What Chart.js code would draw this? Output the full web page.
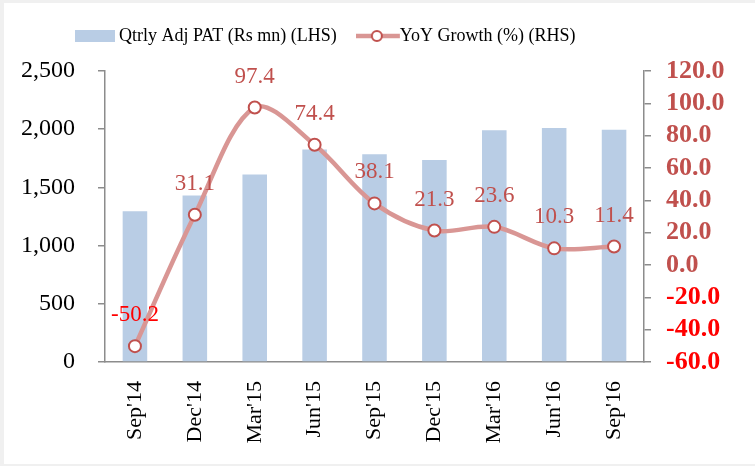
<!DOCTYPE html>
<html>
<head>
<meta charset="utf-8">
<script src="https://cdn.jsdelivr.net/npm/chart.js@4.4.1/dist/chart.umd.min.js"></script>
<style>
html,body{margin:0;padding:0;background:#fff;}
#wrap{width:755px;height:466px;position:relative;}
</style>
</head>
<body>
<div id="wrap"><canvas id="c" width="755" height="466"></canvas></div>
<script>
const categories = ["Sep'14","Dec'14","Mar'15","Jun'15","Sep'15","Dec'15","Mar'16","Jun'16","Sep'16"];
const patValues = [1295, 1430, 1610, 1825, 1785, 1735, 1990, 2010, 1995];
const yoyGrowth = [-50.2, 31.1, 97.4, 74.4, 38.1, 21.3, 23.6, 10.3, 11.4];
const leftTicks = [0, 500, 1000, 1500, 2000, 2500];
const rightTicks = [-60, -40, -20, 0, 20, 40, 60, 80, 100, 120];

const BAR_COLOR = '#B9CDE5';
const LINE_COLOR = '#D99694';
const MARK_COLOR = '#C0504D';
const NEG_COLOR = '#FF0000';
const SERIF = '"Liberation Serif", "DejaVu Serif", serif';

// legend icons: image is 58 px wide, centred 6 px after the item start
function barIcon() {
  const c = document.createElement('canvas');
  c.width = 58; c.height = 12;
  const x = c.getContext('2d');
  x.fillStyle = BAR_COLOR; x.fillRect(0, 0, 40, 12);
  return c;
}
function lineIcon() {
  const c = document.createElement('canvas');
  c.width = 58; c.height = 14;
  const x = c.getContext('2d');
  x.strokeStyle = LINE_COLOR; x.lineWidth = 4.5;
  x.beginPath(); x.moveTo(-2, 7); x.lineTo(44, 7); x.stroke();
  x.beginPath(); x.arc(21, 7, 5, 0, Math.PI * 2);
  x.fillStyle = '#fff'; x.fill();
  x.strokeStyle = MARK_COLOR; x.lineWidth = 2; x.stroke();
  return c;
}
const icons = [barIcon(), lineIcon()];

const frame = {
  id: 'frame',
  beforeDraw(chart) {
    const ctx = chart.ctx;
    ctx.save();
    ctx.fillStyle = '#f0f0f0';
    ctx.fillRect(0, 0, chart.width, chart.height);
    ctx.fillStyle = '#ffffff';
    ctx.fillRect(4, 3, chart.width - 4, chart.height - 5);
    ctx.restore();
  }
};

const legendPlace = {
  id: 'legendPlace',
  beforeInit(chart) {
    const lg = chart.legend;
    const orig = lg.fit;
    lg.fit = function () { orig.call(this); this.height = 71; };
  },
  afterLayout(chart) {
    const lg = chart.legend;
    lg.left = 56;
    lg.right = 755;
    lg.top = -15;
    lg.bottom = 71;
    lg.width = lg.right - lg.left;
    lg.height = lg.bottom - lg.top;
    lg.adjustHitBoxes();
  }
};

const valueLabels = {
  id: 'valueLabels',
  afterDatasetsDraw(chart) {
    const meta = chart.getDatasetMeta(1);
    const ctx = chart.ctx;
    ctx.save();
    ctx.font = '23px ' + SERIF;
    ctx.textAlign = 'center';
    ctx.textBaseline = 'middle';
    meta.data.forEach((pt, i) => {
      const v = yoyGrowth[i];
      ctx.fillStyle = v < 0 ? NEG_COLOR : MARK_COLOR;
      ctx.fillText(v.toFixed(1), pt.x, pt.y - 31);
    });
    ctx.restore();
  }
};

new Chart(document.getElementById('c'), {
  data: {
    labels: categories,
    datasets: [
      {
        type: 'bar',
        label: 'Qtrly Adj PAT (Rs mn) (LHS)',
        data: patValues,
        backgroundColor: BAR_COLOR,
        yAxisID: 'yL',
        barPercentage: 0.41,
        categoryPercentage: 1,
        order: 2
      },
      {
        type: 'line',
        label: 'YoY Growth (%) (RHS)',
        data: yoyGrowth,
        borderColor: LINE_COLOR,
        borderWidth: 4.5,
        tension: 0.33,
        pointRadius: 6,
        pointBackgroundColor: '#ffffff',
        pointBorderColor: MARK_COLOR,
        pointBorderWidth: 2,
        yAxisID: 'yR',
        order: 1
      }
    ]
  },
  options: {
    responsive: false,
    animation: false,
    events: [],
    layout: { padding: 0 },
    plugins: {
      tooltip: { enabled: false },
      legend: {
        position: 'top',
        align: 'start',
        labels: {
          usePointStyle: true,
          pointStyleWidth: 12,
          padding: 42,
          color: '#000',
          font: { family: SERIF, size: 18 },
          generateLabels(chart) {
            return chart.data.datasets.map((d, i) => ({
              text: d.label,
              pointStyle: icons[i],
              fillStyle: 'transparent',
              strokeStyle: 'transparent',
              lineWidth: 0,
              hidden: false,
              datasetIndex: i,
              fontColor: '#000'
            }));
          }
        }
      }
    },
    scales: {
      x: {
        grid: { display: false, drawTicks: false },
        border: { display: true, color: '#8c8c8c', width: 1.5 },
        ticks: {
          color: '#000',
          font: { family: SERIF, size: 22 },
          maxRotation: 90, minRotation: 90,
          padding: 19
        },
        afterFit(s) { s.height = 104; }
      },
      yL: {
        position: 'left',
        min: 0, max: 2500,
        afterBuildTicks(s) { s.ticks = leftTicks.map(v => ({ value: v })); },
        grid: { drawOnChartArea: false, drawTicks: true, tickLength: 7, color: '#8c8c8c', lineWidth: 1.5 },
        border: { display: true, color: '#8c8c8c', width: 1.5 },
        ticks: {
          color: '#000',
          font: { family: SERIF, size: 24 },
          padding: 23,
          callback: v => v.toLocaleString('en-US')
        },
        afterFit(s) { s.width = 105; }
      },
      yR: {
        position: 'right',
        min: -60, max: 120,
        afterBuildTicks(s) { s.ticks = rightTicks.map(v => ({ value: v })); },
        grid: { drawOnChartArea: false, drawTicks: true, tickLength: 7, color: '#8c8c8c', lineWidth: 1.5 },
        border: { display: true, color: '#8c8c8c', width: 1.5 },
        ticks: {
          autoSkip: false,
          font: { family: SERIF, size: 26, weight: 'bold' },
          padding: 15,
          color: ctx => (ctx.tick && ctx.tick.value < 0) ? NEG_COLOR : MARK_COLOR,
          callback: v => Number(v).toFixed(1)
        },
        afterFit(s) { s.width = 111; }
      }
    }
  },
  plugins: [frame, legendPlace, valueLabels]
});
</script>
</body>
</html>
